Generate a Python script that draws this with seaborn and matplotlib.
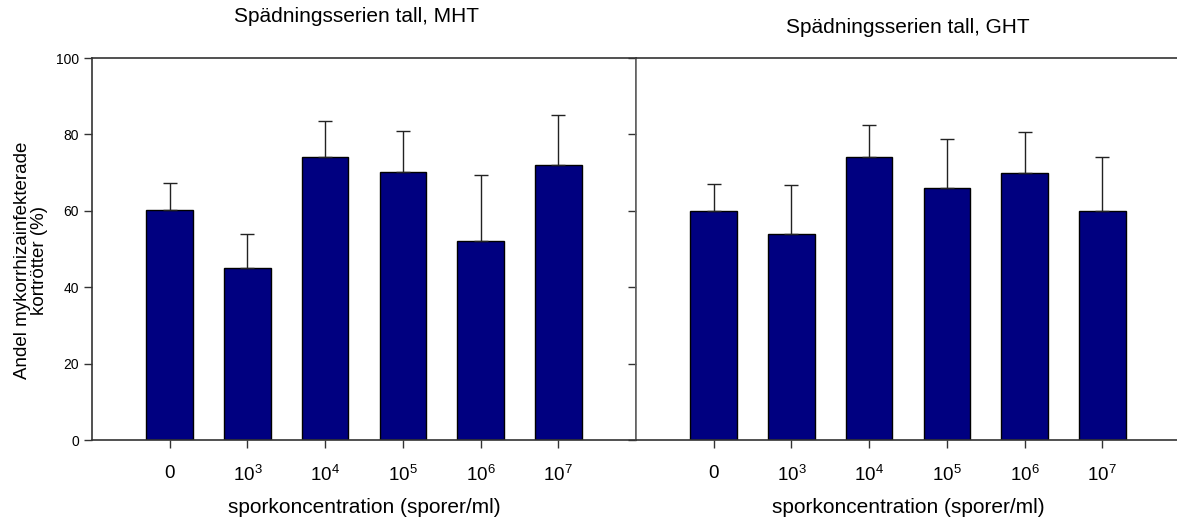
import matplotlib
matplotlib.use("Agg")
import matplotlib.pyplot as plt
import seaborn as sns
import numpy as np
import pandas as pd

categories = ["0", "1e3", "1e4", "1e5", "1e6", "1e7"]
tick_labels = ["0", "$10^{3}$", "$10^{4}$", "$10^{5}$", "$10^{6}$", "$10^{7}$"]
mht_mean = [60.1, 45.1, 74.1, 70.1, 52.1, 72.1]
mht_upper = [67.2, 54.0, 83.4, 80.9, 69.3, 85.2]
ght_mean = [59.9, 53.9, 74.0, 65.9, 69.9, 60.0]
ght_upper = [67.0, 66.7, 82.4, 78.8, 80.6, 74.1]
titles = ["Spädningsserien tall, MHT", "Spädningsserien tall, GHT"]
xlabel = "sporkoncentration (sporer/ml)"
ylabel = "Andel mykorrhizainfekterade\nkortrötter (%)"
yticks = [0, 20, 40, 60, 80, 100]

sns.set_style("white")
plt.rcParams["font.family"] = ["Liberation Sans", "DejaVu Sans"]
plt.rcParams["mathtext.fontset"] = "custom"
plt.rcParams["mathtext.rm"] = "Liberation Sans"
plt.rcParams["mathtext.it"] = "Liberation Sans"
plt.rcParams["text.color"] = "black"
plt.rcParams["axes.labelcolor"] = "black"
plt.rcParams["xtick.color"] = "black"
plt.rcParams["ytick.color"] = "black"

W, H = 1177, 518
fig = plt.figure(figsize=(W / 100, H / 100), dpi=100)
ax1 = fig.add_axes([92 / W, (H - 440) / H, (636 - 92) / W, (440 - 58) / H])
ax2 = fig.add_axes([636 / W, (H - 440) / H, (1180 - 636) / W, (440 - 58) / H])

for ax, means, uppers, title, tx, ty in [
    (ax1, mht_mean, mht_upper, titles[0], 0.487, 1.108),
    (ax2, ght_mean, ght_upper, titles[1], 0.5, 1.08),
]:
    df = pd.DataFrame({"cat": categories, "val": means})
    sns.barplot(data=df, x="cat", y="val", ax=ax, color="#000080",
                saturation=1, width=0.6, edgecolor="black", linewidth=1.0,
                errorbar=None)
    x = np.arange(len(categories))
    err = np.array(uppers) - np.array(means)
    ax.errorbar(x, means, yerr=[np.zeros_like(err), err], fmt="none",
                ecolor="#222222", elinewidth=1.0, capsize=4.7, capthick=1.0)
    ax.set_xlim(-1, 6)
    ax.set_ylim(0, 100)
    ax.set_yticks(yticks)
    ax.set_xticks(x)
    ax.set_xticklabels(tick_labels, fontsize=13.5)
    ax.set_xlabel(xlabel, fontsize=15, labelpad=9)
    ax.set_ylabel("")
    ax.text(tx, ty, title, transform=ax.transAxes, ha="center",
            va="center", fontsize=15)
    for s in ax.spines.values():
        s.set_color("#333333")
        s.set_linewidth(1.2)
    ax.tick_params(axis="x", direction="out", length=6, width=1,
                   color="#333333", pad=12, bottom=True)
    ax.tick_params(axis="y", direction="out", length=6, width=1,
                   color="#333333", labelsize=10, left=True)

ax1.set_ylabel(ylabel, fontsize=13.5, linespacing=1.0)
ax1.yaxis.set_label_coords(-0.08, 0.47)
ax2.tick_params(axis="y", labelleft=False)
ax2.spines["right"].set_visible(False)
ax2.spines["left"].set_color("#666666")

fig.savefig("out.png", dpi=100, facecolor="white")
